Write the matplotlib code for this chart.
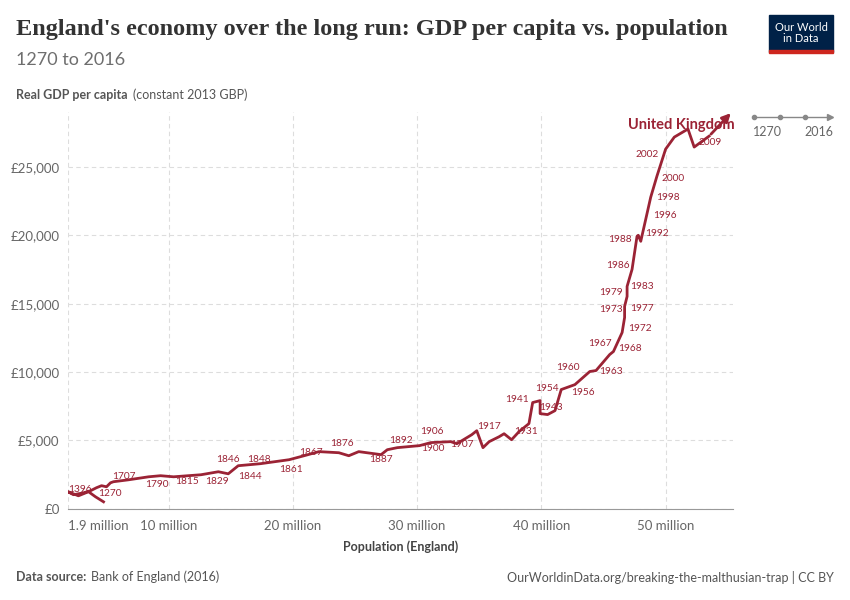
import matplotlib
matplotlib.use("Agg")
import matplotlib.pyplot as plt
from matplotlib.patches import Rectangle

years = [1270,1300,1348,1380,1396,1450,1500,1550,1600,1650,1680,1700,1707,1750,1790,1800,1815,1829,1840,1844,1846,1848,1861,1867,1870,1876,1880,1883,1887,1890,1892,1900,1906,1907,1910,1914,1917,1919,1921,1925,1929,1931,1935,1938,1941,1943,1945,1947,1950,1954,1956,1960,1963,1967,1968,1972,1973,1977,1979,1983,1986,1988,1990,1992,1996,1998,2000,2002,2005,2008,2009,2012,2016]
population_m = [4.76,4.11,3.55,2.74,1.9,2.34,3.15,3.71,4.19,4.6,5.0,5.32,5.56,6.77,8.39,9.35,10.4,12.6,14.0,14.8,15.6,17.4,19.7,20.9,22.1,23.7,24.5,25.3,27.1,27.6,28.4,30.2,31.1,32.7,33.2,34.4,34.8,35.3,35.8,36.6,37.0,37.6,38.2,39.0,39.3,39.9,39.9,40.5,41.1,41.6,42.7,43.9,44.4,45.5,45.8,46.5,46.7,46.7,46.9,46.9,47.3,47.7,47.8,48.0,48.4,48.8,49.3,50.0,50.7,51.8,52.3,53.5,55.4]
gdp_pc = [510,880,1250,950,1250,1030,1170,1320,1540,1690,1610,1900,1980,2120,2340,2420,2340,2490,2710,2560,3150,3300,3590,3880,4180,4100,3880,4180,3960,4320,4470,4620,4840,4910,4760,5420,5710,4470,4910,5270,5490,5050,5640,6230,7770,7910,6960,6890,7180,8720,9080,10040,10110,11280,11500,12890,13990,14800,15530,16260,17510,19930,20000,19560,21170,22780,24320,26300,27180,27770,26450,27250,29080]

labelled_years = [1396,1270,1707,1790,1815,1829,1846,1844,1848,1861,1867,1876,1887,1892,1906,1900,1907,1917,1931,1941,1943,1954,1956,1960,1963,1967,1968,1972,1973,1977,1979,1983,1986,1988,1992,1996,1998,2000,2002,2009]
label_offsets = {1396:(12,2),1270:(6,8),1707:(10,5),1790:(8,-8),1815:(13,-5),1829:(16,-7),1846:(-10,6),1844:(22,-3),1848:(-2,4),1861:(2,-10),1867:(7,3),1876:(3,9),1887:(0,-5),1892:(4,7),1906:(1,11),1900:(13,-3),1907:(11,-3),1917:(12,4),1931:(14,8),1941:(-16,3),1943:(11,-7),1954:(-14,1),1956:(8,-8),1960:(-22,4),1963:(15,-1),1967:(-10,11),1968:(17,3),1972:(18,4),1973:(-14,8),1977:(17,-2),1979:(-16,4),1983:(15,0),1986:(-14,4),1988:(-17,-3),1992:(16,8),1996:(19,4),1998:(17,0),2000:(16,-2),2002:(-18,-5),2009:(16,5)}

x_ticks = [1.9,10,20,30,40,50]
x_ticklabels = ["1.9 million","10 million","20 million","30 million","40 million","50 million"]
y_ticks = [0,5000,10000,15000,20000,25000]
y_ticklabels = ["£0","£5,000","£10,000","£15,000","£20,000","£25,000"]

RED = "#9b2335"
GREY = "#666666"
plt.rcParams['font.family'] = ['Lato', 'DejaVu Sans']

fig = plt.figure(figsize=(8.5, 6), dpi=100)
ax = fig.add_axes([0.08, 0.152, 0.782, 0.661])
ax.set_xlim(1.9, 55.4)
ax.set_ylim(0, 29000)

ax.plot(population_m[:-1], gdp_pc[:-1], color=RED, lw=2, solid_joinstyle='round', zorder=3)
ax.annotate("", xy=(population_m[-1], gdp_pc[-1]), xytext=(population_m[-2], gdp_pc[-2]),
            arrowprops=dict(arrowstyle="-|>,head_length=0.5,head_width=0.25", color=RED, lw=2),
            annotation_clip=False, zorder=3)

for y in labelled_years:
    i = years.index(y)
    dx, dy = label_offsets[y]
    ax.annotate(str(y), xy=(population_m[i], gdp_pc[i]), xytext=(dx, dy), textcoords='offset pixels',
                ha='center', va='center', fontsize=7.3, color=RED, zorder=4)

ax.text(0.923, 0.967, "United Kingdom", transform=ax.transAxes, ha='center', va='center',
        fontsize=10.5, fontweight='bold', color=RED, zorder=5)

ax.set_xticks(x_ticks)
ax.set_xticklabels(x_ticklabels)
ax.get_xticklabels()[0].set_ha('left')
ax.set_yticks(y_ticks)
ax.set_yticklabels(y_ticklabels)
ax.tick_params(axis='both', length=0, labelsize=9.5, colors=GREY, pad=6)
ax.tick_params(axis='x', pad=8)
ax.grid(True, ls=(0, (4, 3)), color="#dddddd", lw=0.8)
for s in ['top', 'right', 'left']:
    ax.spines[s].set_visible(False)
ax.spines['bottom'].set_color("#999999")
ax.set_xlabel("Population (England)", fontsize=9, fontweight='bold', color="#444444", labelpad=6)

fig.text(16/850, 1-30/600, "England's economy over the long run: GDP per capita vs. population",
         fontsize=17.5, fontweight='bold', family=['Liberation Serif', 'DejaVu Serif'], color="#333333", va='center')
fig.text(16/850, 1-60/600, "1270 to 2016", fontsize=13, color="#6e6e6e", va='center')
fig.text(16/850, 1-95/600, "Real GDP per capita", fontsize=9, fontweight='bold', color="#555555", va='center')
fig.text(133/850, 1-95/600, "(constant 2013 GBP)", fontsize=9, color="#555555", va='center')
fig.text(16/850, 1-577/600, "Data source:", fontsize=9, fontweight='bold', color="#555555", va='center')
fig.text(91/850, 1-577/600, "Bank of England (2016)", fontsize=9, color="#555555", va='center')
fig.text(834/850, 1-577/600, "OurWorldinData.org/breaking-the-malthusian-trap | CC BY", fontsize=9,
         color="#555555", va='center', ha='right')

# logo
fig.patches.append(Rectangle((769/850, 1-52/600), 64/850, 37/600, transform=fig.transFigure, color="#002147"))
fig.patches.append(Rectangle((769/850, 1-53/600), 64/850, 3/600, transform=fig.transFigure, color="#ce261e"))
fig.text(801/850, 1-33/600, "Our World\nin Data", fontsize=8, color='white', ha='center', va='center', linespacing=1.0)

# timeline legend
fig.add_artist(matplotlib.lines.Line2D([754/850, 830/850], [1-117/600]*2, color="#888888", lw=1))
fig.add_artist(matplotlib.lines.Line2D([754/850, 780/850, 805/850], [1-117/600]*3, color="#888888", lw=0, marker='o', ms=3))
fig.add_artist(matplotlib.lines.Line2D([830/850], [1-117/600], color="#888888", lw=0, marker='>', ms=4))
fig.text(767/850, 1-132/600, "1270", fontsize=9, color=GREY, ha='center', va='center')
fig.text(819/850, 1-132/600, "2016", fontsize=9, color=GREY, ha='center', va='center')

fig.savefig("out.png", dpi=100)
